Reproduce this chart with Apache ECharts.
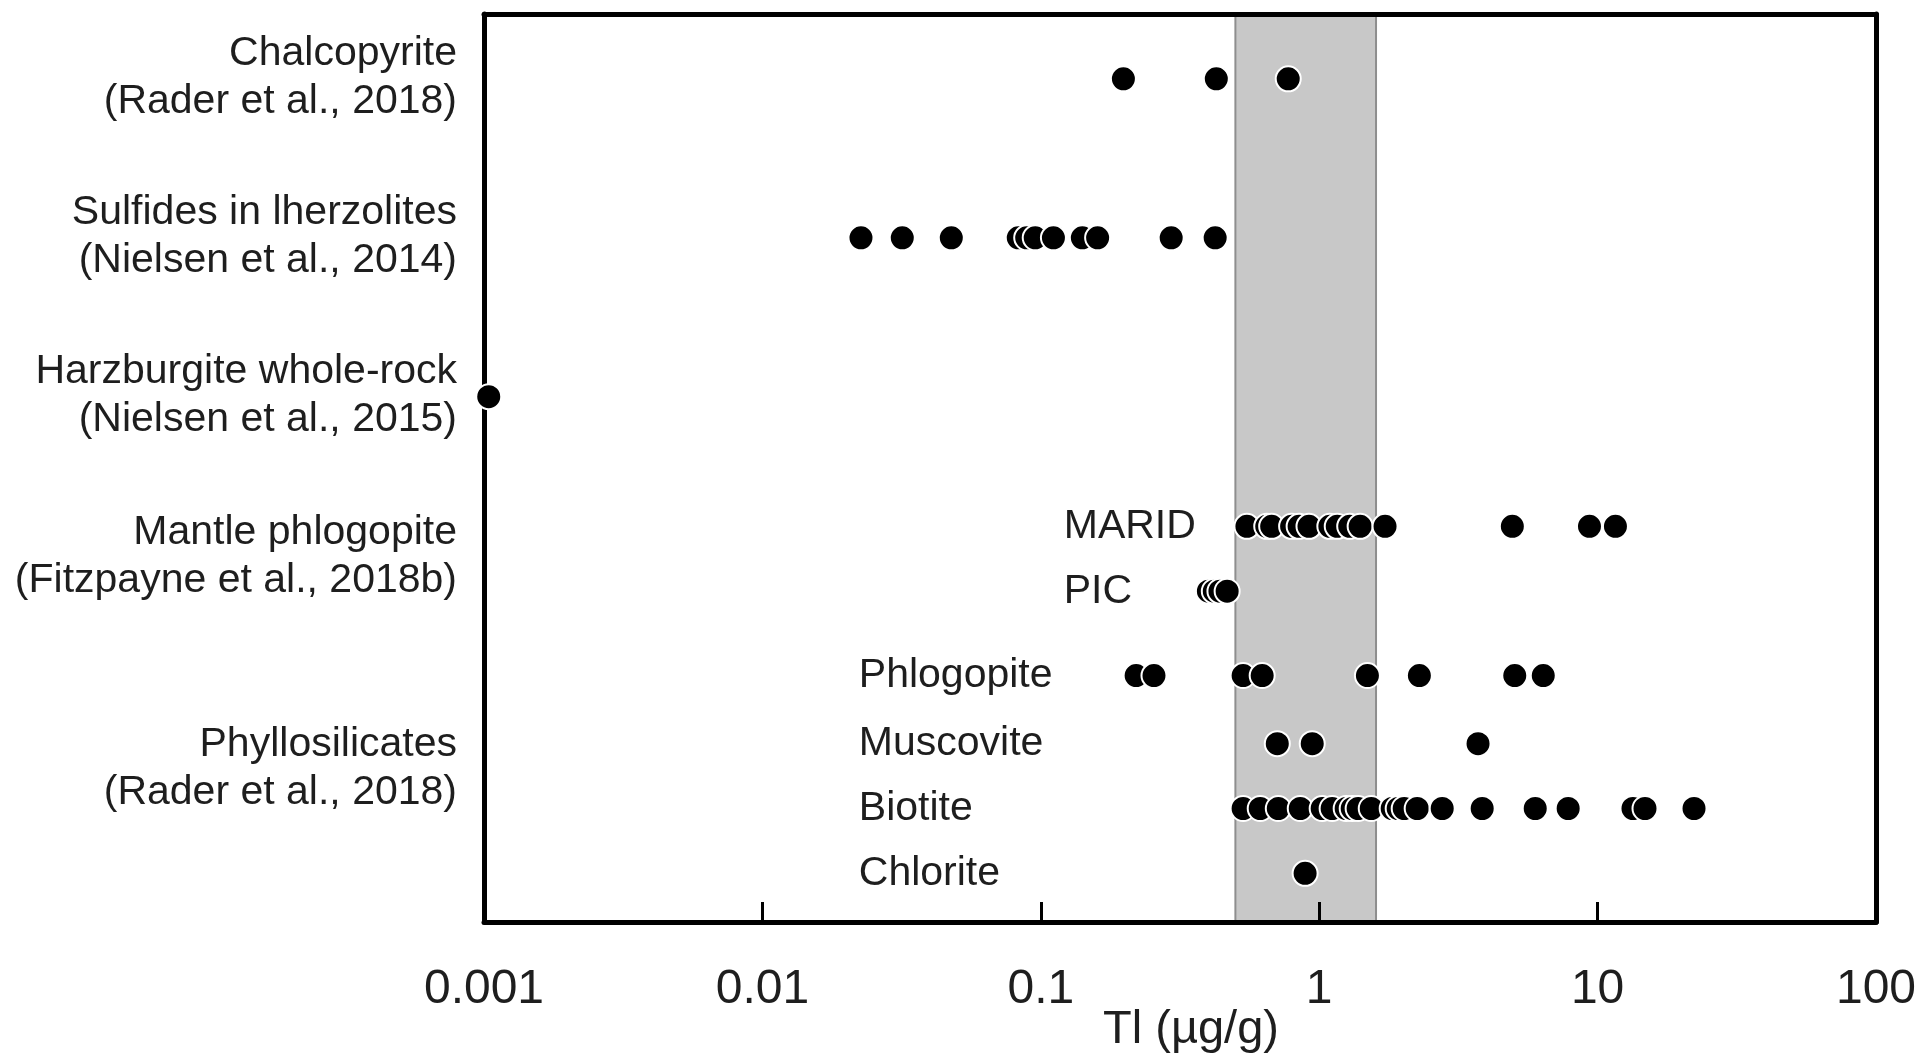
<!DOCTYPE html>
<html>
<head>
<meta charset="utf-8">
<title>Tl concentrations in mantle minerals</title>
<script src="https://cdn.jsdelivr.net/npm/echarts@6/dist/echarts.min.js"></script>
<style>
  html, body { margin: 0; padding: 0; background: #fff; }
  #chart { width: 1927px; height: 1059px; }
</style>
</head>
<body>
<div id="chart"></div>
<script>
// ---- Data: Tl (µg/g) per sample group ----
const chalcopyrite = [0.198, 0.427, 0.774];
const sulfidesLherzolites = [0.0226, 0.0318, 0.0477, 0.083, 0.089, 0.0955, 0.111, 0.141, 0.160, 0.294, 0.423];
const harzburgiteWholeRock = [0.00104];
const maridPhlogopite = [0.550, 0.648, 0.675, 0.796, 0.847, 0.919, 1.092, 1.161, 1.287, 1.403, 1.724, 4.94, 9.35, 11.59];
const picPhlogopite = [0.40, 0.42, 0.44, 0.467];
const phlogopite = [0.220, 0.255, 0.533, 0.624, 1.49, 2.29, 5.04, 6.38];
const muscovite = [0.707, 0.944, 3.72];
const biotite = [0.533, 0.614, 0.713, 0.855, 1.025, 1.113, 1.250, 1.314, 1.380, 1.538, 1.829, 1.922, 2.020, 2.249, 2.766, 3.85, 5.97, 7.84, 13.4, 14.8, 22.2];
const chlorite = [0.89];

// Shaded reference range (µg/g)
const bandRange = [0.5, 1.6];

// Group labels on the left axis
const groupLabels = [
  'Chalcopyrite\n(Rader et al., 2018)',
  'Sulfides in lherzolites\n(Nielsen et al., 2014)',
  'Harzburgite whole-rock\n(Nielsen et al., 2015)',
  'Mantle phlogopite\n(Fitzpayne et al., 2018b)',
  'Phyllosilicates\n(Rader et al., 2018)'
];
// Sub-row labels drawn next to the rows
const subRowLabels = ['MARID', 'PIC', 'Phlogopite', 'Muscovite', 'Biotite', 'Chlorite'];

// Tick labels of the log axis
const xTickLabels = ['0.001', '0.01', '0.1', '1', '10', '100'];
const xAxisTitle = 'Tl (µg/g)';

// ---- Layout: vertical slot of each row / label on a 0..14 band axis ----
const rows = [
  chalcopyrite, sulfidesLherzolites, harzburgiteWholeRock,
  maridPhlogopite, picPhlogopite, phlogopite, muscovite, biotite, chlorite
];
const rowNames = ['Chalcopyrite', 'Sulfides in lherzolites', 'Harzburgite whole-rock',
  'MARID', 'PIC', 'Phlogopite', 'Muscovite', 'Biotite', 'Chlorite'];
const rowSlot = [1.0, 3.45, 5.9, 7.9, 8.9, 10.2, 11.25, 12.25, 13.25];
const groupSlot = [0.975, 3.43, 5.88, 8.37, 11.64];
const subLabelRow = [3, 4, 5, 6, 7, 8];
const subLabelAnchorX = [0.1204, 0.1204, 0.0221, 0.0221, 0.0221, 0.0221];

const FONT = '"Liberation Sans", Arial, Helvetica, sans-serif';
const TEXT = '#1e1e1e';
const frameLine = { show: true, onZero: false, lineStyle: { color: '#000', width: 5 } };

const dotSeries = rows.map((vals, i) => ({
  name: rowNames[i],
  type: 'scatter',
  z: 5,
  clip: false,
  silent: true,
  symbol: 'circle',
  symbolSize: 25,
  itemStyle: { color: '#000', borderColor: '#fff', borderWidth: 2, opacity: 1 },
  data: vals.map(v => [v, rowSlot[i]])
}));

// grey range band sits under everything
dotSeries[0].markArea = {
  silent: true,
  z: 1,
  itemStyle: { color: '#c8c8c8', borderColor: '#8e8e8e', borderWidth: 2 },
  data: [[{ xAxis: bandRange[0] }, { xAxis: bandRange[1] }]]
};

// text-only points carrying the sub-row names
const labelSeries = {
  type: 'scatter',
  z: 4,
  silent: true,
  clip: false,
  symbol: 'circle',
  symbolSize: 1,
  itemStyle: { color: '#fff', opacity: 1 },
  label: {
    show: true,
    position: 'right',
    distance: 0,
    formatter: '{b}',
    fontFamily: FONT,
    fontSize: 41,
    color: TEXT,
    opacity: 1
  },
  data: subRowLabels.map((name, k) => ({
    name: name,
    value: [subLabelAnchorX[k], rowSlot[subLabelRow[k]]]
  }))
};

const chart = echarts.init(document.getElementById('chart'), null, { renderer: 'canvas' });

chart.setOption({
  animation: false,
  backgroundColor: '#fff',
  tooltip: { show: false },
  grid: { left: 484, right: 51, top: 14, bottom: 137, containLabel: false, outerBoundsMode: 'none' },
  xAxis: [
    {
      type: 'log',
      logBase: 10,
      min: 0.001,
      max: 100,
      splitNumber: 5,
      position: 'bottom',
      z: 3,
      name: xAxisTitle,
      nameLocation: 'middle',
      nameGap: 108,
      nameMoveOverlap: false,
      nameTextStyle: {
        fontFamily: FONT, fontSize: 47, color: TEXT,
        verticalAlign: 'middle', padding: [0, 0, 0, 22]
      },
      axisLine: frameLine,
      axisTick: { show: true, inside: true, length: 20, lineStyle: { color: '#000', width: 3 } },
      minorTick: { show: false },
      splitLine: { show: false },
      axisLabel: {
        fontFamily: FONT,
        fontSize: 48,
        lineHeight: 48,
        color: TEXT,
        margin: 44,
        formatter: v => xTickLabels[Math.round(Math.log10(v)) + 3]
      }
    },
    {
      type: 'log',
      logBase: 10,
      min: 0.001,
      max: 100,
      position: 'top',
      z: 3,
      axisLine: frameLine,
      axisTick: { show: false },
      axisLabel: { show: false },
      splitLine: { show: false }
    }
  ],
  yAxis: [
    {
      type: 'value',
      min: 0,
      max: 14,
      inverse: true,
      position: 'left',
      z: 3,
      axisLine: frameLine,
      axisTick: { show: false },
      splitLine: { show: false },
      axisLabel: {
        customValues: groupSlot,
        fontFamily: FONT,
        fontSize: 41,
        lineHeight: 48,
        color: TEXT,
        margin: 27,
        align: 'right',
        formatter: function (v) {
          let best = 0;
          groupSlot.forEach((s, k) => { if (Math.abs(s - v) < Math.abs(groupSlot[best] - v)) best = k; });
          return groupLabels[best];
        }
      }
    },
    {
      type: 'value',
      min: 0,
      max: 14,
      inverse: true,
      position: 'right',
      z: 3,
      axisLine: frameLine,
      axisTick: { show: false },
      axisLabel: { show: false },
      splitLine: { show: false }
    }
  ],
  series: dotSeries.concat([labelSeries])
});
</script>
</body>
</html>
